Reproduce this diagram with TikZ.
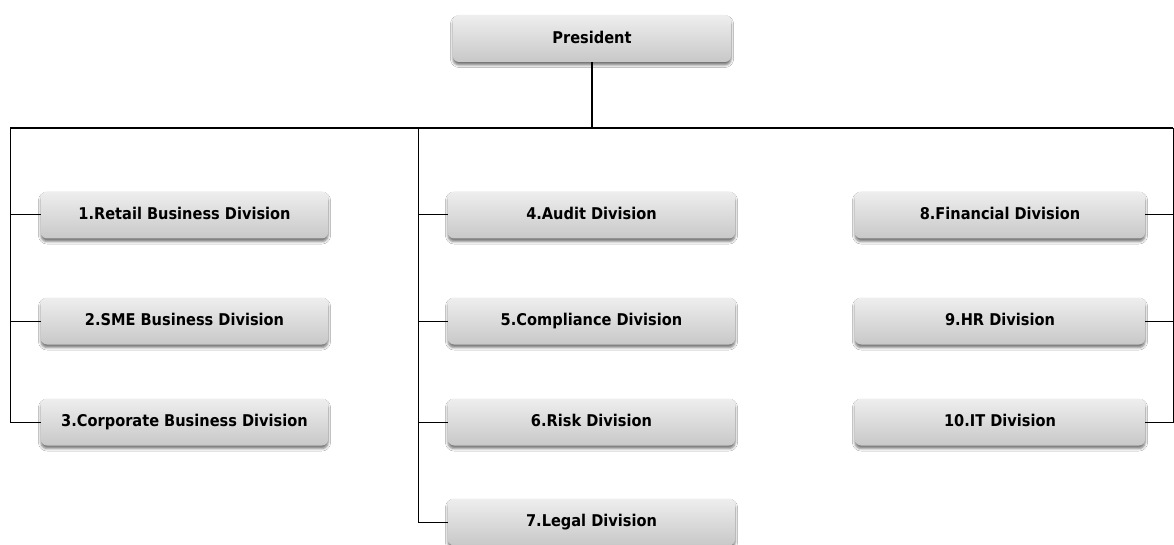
\documentclass[tikz,border=0pt]{standalone}
\usepackage{fontspec}
\setmainfont{DejaVu Sans}[FakeStretch=0.9]
\usetikzlibrary{shadows.blur}
\definecolor{boxtop}{HTML}{EEEEEE}
\definecolor{boxbottom}{HTML}{C8C8C8}
\tikzset{
  unit box/.style={
    rounded corners=6pt, top color=boxtop, bottom color=boxbottom,
    draw=none, minimum height=47pt, inner sep=0pt,
    text height=0.95em, text depth=0em,
    font=\fontsize{16.2}{19}\selectfont\bfseries, text=black,
    blur shadow={shadow xshift=0pt, shadow yshift=-3pt,
                 shadow blur radius=2.5pt, shadow opacity=55}},
  col1/.style={unit box, minimum width=287pt},
  col2/.style={unit box, minimum width=287pt},
  col3/.style={unit box, minimum width=290pt},
  bus/.style={line width=2pt},
  link/.style={line width=1.3pt},
  branch/.style={line width=1pt}
}
\begin{document}
\begin{tikzpicture}[x=1pt, y=-1pt]
\useasboundingbox (0,0) rectangle (1174,545);
\fill[white] (0,0) rectangle (1174,545);

% top of the hierarchy
\node[unit box, minimum width=278pt] (pres) at (592,38.5) {President};

% division boxes, three columns
\node[col1] (d1)  at (184.5,215) {1.Retail Business Division};
\node[col1] (d2)  at (184.5,321) {2.SME Business Division};
\node[col1] (d3)  at (184.5,422) {3.Corporate Business Division};
\node[col2] (d4)  at (591.5,215) {4.Audit Division};
\node[col2] (d5)  at (591.5,321) {5.Compliance Division};
\node[col2] (d6)  at (591.5,422) {6.Risk Division};
\node[col2] (d7)  at (591.5,522) {7.Legal Division};
\node[col3] (d8)  at (1000,215) {8.Financial Division};
\node[col3] (d9)  at (1000,321) {9.HR Division};
\node[col3] (d10) at (1000,422) {10.IT Division};

% horizontal bus and its drop points
\coordinate (busL) at (10,128);
\coordinate (busM) at (418,128);
\coordinate (busR) at (1173,128);
\draw[bus] (busL) -- (busR);
\draw[link] (pres.south) -- (pres.south |- busL);

% left column
\draw[branch] (busL) |- (d3.west);
\draw[branch] (d1.west) -- (d1.west -| busL);
\draw[branch] (d2.west) -- (d2.west -| busL);

% middle column
\draw[branch] (busM) |- (d7.west);
\draw[branch] (d4.west) -- (d4.west -| busM);
\draw[branch] (d5.west) -- (d5.west -| busM);
\draw[branch] (d6.west) -- (d6.west -| busM);

% right column
\draw[branch] (busR) |- (d10.east);
\draw[branch] (d8.east) -- (d8.east -| busR);
\draw[branch] (d9.east) -- (d9.east -| busR);
\end{tikzpicture}
\end{document}
